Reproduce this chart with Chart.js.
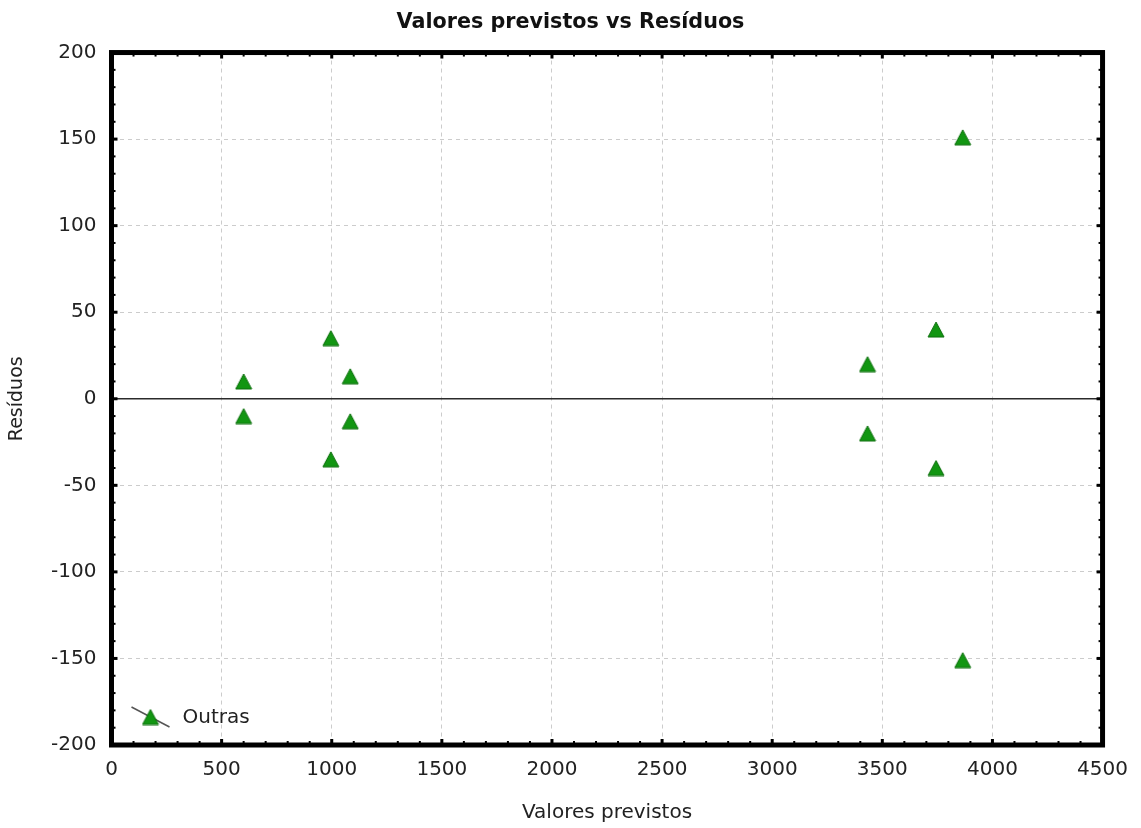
<!DOCTYPE html>
<html>
<head>
<meta charset="utf-8">
<title>Valores previstos vs Resíduos</title>
<script src="https://cdn.jsdelivr.net/npm/chart.js@4.4.0/dist/chart.umd.min.js"></script>
<style>
  html, body { margin: 0; padding: 0; background: #fff; }
  #wrap { width: 1141px; height: 828px; }
</style>
</head>
<body>
<div id="wrap"><canvas id="grafico" width="1141" height="828"></canvas></div>
<script>
// valores previstos (eixo x) e resíduos (eixo y)
var previstos = [600, 600, 996, 996, 1084, 1084, 3433, 3433, 3744, 3744, 3865, 3865];
var residuos = [10, -10, 35, -35, 13, -13, 20, -20, 40, -40, 151, -151];
var serieNome = 'Outras';
var xTicks = [0, 500, 1000, 1500, 2000, 2500, 3000, 3500, 4000, 4500];
var yTicks = [-200, -150, -100, -50, 0, 50, 100, 150, 200];

var fonte = '"DejaVu Sans", "Liberation Sans", sans-serif';

// triangulo verde usado como marcador
function triangulo() {
    var c = document.createElement('canvas');
    c.width = 18;
    c.height = 17;
    var g = c.getContext('2d');
    g.beginPath();
    g.moveTo(1, 16);
    g.lineTo(9, 1);
    g.lineTo(17, 16);
    g.closePath();
    g.fillStyle = '#129612';
    g.fill();
    g.strokeStyle = '#0c6e0c';
    g.lineWidth = 1;
    g.stroke();
    return c;
}
var marcador = triangulo();

var pontos = previstos.map(function (v, i) { return { x: v, y: residuos[i] }; });

// moldura grossa, marcas internas, linha do zero e legenda
const moldura = {
    id: 'moldura',
    beforeDatasetsDraw(chart) {
        const { ctx, chartArea: a, scales: { x, y } } = chart;
        const y0 = y.getPixelForValue(0);
        ctx.save();
        ctx.strokeStyle = '#2b2b2b';
        ctx.lineWidth = 1.5;
        ctx.beginPath();
        ctx.moveTo(a.left, y0);
        ctx.lineTo(a.right, y0);
        ctx.stroke();
        ctx.restore();
    },
    afterDraw(chart) {
        const { ctx, chartArea: a, scales: { x, y } } = chart;
        ctx.save();
        ctx.fillStyle = '#000';
        // marcas no eixo x (a cada 100)
        for (var v = x.min; v <= x.max; v += 100) {
            var px = x.getPixelForValue(v);
            var maior = v % 500 === 0;
            var len = maior ? 6 : 4;
            var w = maior ? 3 : 2;
            ctx.fillRect(px - w / 2, a.bottom - len, w, len);
            ctx.fillRect(px - w / 2, a.top, w, len);
        }
        // marcas no eixo y (a cada 10)
        for (var r = y.min; r <= y.max; r += 10) {
            var py = y.getPixelForValue(r);
            var maiorY = r % 50 === 0;
            var lenY = maiorY ? 6 : 4;
            var wY = maiorY ? 3 : 2;
            ctx.fillRect(a.left, py - wY / 2, lenY, wY);
            ctx.fillRect(a.right - lenY, py - wY / 2, lenY, wY);
        }
        ctx.strokeStyle = '#000';
        ctx.lineWidth = 5;
        ctx.strokeRect(a.left, a.top, a.right - a.left, a.bottom - a.top);

        // legenda
        var lx = a.left + 39, ly = a.bottom - 28;
        ctx.strokeStyle = '#555';
        ctx.lineWidth = 1.5;
        ctx.beginPath();
        ctx.moveTo(lx - 19, ly - 10);
        ctx.lineTo(lx + 19, ly + 10);
        ctx.stroke();
        ctx.drawImage(marcador, lx - marcador.width / 2, ly - marcador.height / 2);
        ctx.fillStyle = '#222';
        ctx.font = '20px ' + fonte;
        ctx.textBaseline = 'middle';
        ctx.textAlign = 'left';
        ctx.fillText(chart.data.datasets[0].label, lx + 32, ly + 1);
        ctx.restore();
    }
};

function semSeparador(valor) { return String(valor); }

var ctx = document.getElementById('grafico');
var chart = new Chart(ctx, {
    type: 'scatter',
    data: {
        datasets: [{
            label: serieNome,
            data: pontos,
            pointStyle: marcador,
            pointRadius: 9,
            pointHoverRadius: 9
        }]
    },
    options: {
        responsive: false,
        animation: false,
        layout: { padding: { left: 0, right: 0, top: 0, bottom: 3 } },
        plugins: {
            legend: { display: false },
            tooltip: { enabled: false },
            title: {
                display: true,
                text: 'Valores previstos vs Resíduos',
                color: '#111',
                font: { family: fonte, size: 20.7, weight: 'bold', lineHeight: 1.2 },
                padding: { top: 10, bottom: 17.7 }
            }
        },
        scales: {
            x: {
                type: 'linear',
                min: 0,
                max: 4500,
                afterFit: function (s) { s.height = 80; },
                afterBuildTicks: function (s) { s.ticks = xTicks.map(function (v) { return { value: v }; }); },
                grid: {
                    drawTicks: false,
                    color: function (c) {
                        var v = c.tick && c.tick.value;
                        return (v === 0 || v === 4500) ? 'rgba(0,0,0,0)' : '#cccccc';
                    }
                },
                border: { display: false, dash: [4, 4] },
                ticks: { color: '#222', padding: 13, font: { family: fonte, size: 20 }, callback: semSeparador },
                title: {
                    display: true,
                    text: 'Valores previstos',
                    color: '#222',
                    font: { family: fonte, size: 20, lineHeight: 1.2 },
                    padding: { top: 0, bottom: 0 }
                }
            },
            y: {
                type: 'linear',
                min: -200,
                max: 200,
                afterFit: function (s) { s.width = 111.5; },
                afterBuildTicks: function (s) { s.ticks = yTicks.map(function (v) { return { value: v }; }); },
                grid: {
                    drawTicks: false,
                    color: function (c) {
                        var v = c.tick && c.tick.value;
                        return (v === 0 || v === 200 || v === -200) ? 'rgba(0,0,0,0)' : '#cccccc';
                    }
                },
                border: { display: false, dash: [4, 4] },
                ticks: { color: '#222', padding: 15, font: { family: fonte, size: 20 }, callback: semSeparador },
                title: {
                    display: true,
                    text: 'Resíduos',
                    color: '#222',
                    font: { family: fonte, size: 19, lineHeight: 1.2 },
                    padding: { top: 6, bottom: 0 }
                }
            },
            // eixo vazio à direita, só para reservar a margem
            margem: {
                type: 'linear',
                position: 'right',
                min: -200,
                max: 200,
                afterFit: function (s) { s.width = 37.5; },
                grid: { display: false },
                border: { display: false },
                ticks: { display: false }
            }
        }
    },
    plugins: [moldura]
});
</script>
</body>
</html>
